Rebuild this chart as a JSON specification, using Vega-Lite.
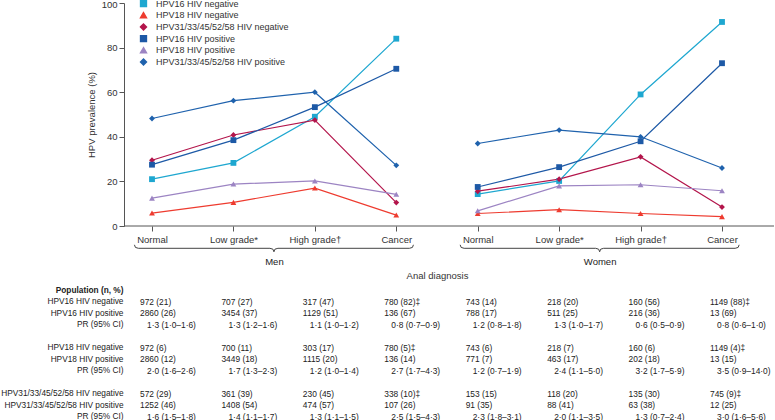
{
  "$schema": "https://vega.github.io/schema/vega-lite/v6.json",
  "width": 650,
  "height": 223,
  "autosize": {"type": "none"},
  "padding": {"left": 124, "top": 3, "right": 1, "bottom": 194},
  "background": "white",
  "datasets": {
    "prev": [
      {"s": "HPV16 HIV negative", "g": "Men", "col": "Men|Normal", "v": 21},
      {"s": "HPV16 HIV negative", "g": "Men", "col": "Men|Low grade*", "v": 28.3},
      {"s": "HPV16 HIV negative", "g": "Men", "col": "Men|High grade†", "v": 49},
      {"s": "HPV16 HIV negative", "g": "Men", "col": "Men|Cancer", "v": 84},
      {"s": "HPV18 HIV negative", "g": "Men", "col": "Men|Normal", "v": 5.8},
      {"s": "HPV18 HIV negative", "g": "Men", "col": "Men|Low grade*", "v": 10.6},
      {"s": "HPV18 HIV negative", "g": "Men", "col": "Men|High grade†", "v": 17},
      {"s": "HPV18 HIV negative", "g": "Men", "col": "Men|Cancer", "v": 4.9},
      {"s": "HPV31/33/45/52/58 HIV negative", "g": "Men", "col": "Men|Normal", "v": 29.5},
      {"s": "HPV31/33/45/52/58 HIV negative", "g": "Men", "col": "Men|Low grade*", "v": 40.8},
      {"s": "HPV31/33/45/52/58 HIV negative", "g": "Men", "col": "Men|High grade†", "v": 47.5},
      {"s": "HPV31/33/45/52/58 HIV negative", "g": "Men", "col": "Men|Cancer", "v": 10.5},
      {"s": "HPV16 HIV positive", "g": "Men", "col": "Men|Normal", "v": 27.5},
      {"s": "HPV16 HIV positive", "g": "Men", "col": "Men|Low grade*", "v": 38.5},
      {"s": "HPV16 HIV positive", "g": "Men", "col": "Men|High grade†", "v": 53.3},
      {"s": "HPV16 HIV positive", "g": "Men", "col": "Men|Cancer", "v": 70.5},
      {"s": "HPV18 HIV positive", "g": "Men", "col": "Men|Normal", "v": 12.5},
      {"s": "HPV18 HIV positive", "g": "Men", "col": "Men|Low grade*", "v": 18.8},
      {"s": "HPV18 HIV positive", "g": "Men", "col": "Men|High grade†", "v": 20.2},
      {"s": "HPV18 HIV positive", "g": "Men", "col": "Men|Cancer", "v": 14.2},
      {"s": "HPV31/33/45/52/58 HIV positive", "g": "Men", "col": "Men|Normal", "v": 48.2},
      {"s": "HPV31/33/45/52/58 HIV positive", "g": "Men", "col": "Men|Low grade*", "v": 56.2},
      {"s": "HPV31/33/45/52/58 HIV positive", "g": "Men", "col": "Men|High grade†", "v": 60},
      {"s": "HPV31/33/45/52/58 HIV positive", "g": "Men", "col": "Men|Cancer", "v": 27.2},
      {"s": "HPV16 HIV negative", "g": "Women", "col": "Women|Normal", "v": 14.3},
      {"s": "HPV16 HIV negative", "g": "Women", "col": "Women|Low grade*", "v": 20.2},
      {"s": "HPV16 HIV negative", "g": "Women", "col": "Women|High grade†", "v": 59},
      {"s": "HPV16 HIV negative", "g": "Women", "col": "Women|Cancer", "v": 91.5},
      {"s": "HPV18 HIV negative", "g": "Women", "col": "Women|Normal", "v": 5.6},
      {"s": "HPV18 HIV negative", "g": "Women", "col": "Women|Low grade*", "v": 7.3},
      {"s": "HPV18 HIV negative", "g": "Women", "col": "Women|High grade†", "v": 5.6},
      {"s": "HPV18 HIV negative", "g": "Women", "col": "Women|Cancer", "v": 4.2},
      {"s": "HPV31/33/45/52/58 HIV negative", "g": "Women", "col": "Women|Normal", "v": 15.6},
      {"s": "HPV31/33/45/52/58 HIV negative", "g": "Women", "col": "Women|Low grade*", "v": 21},
      {"s": "HPV31/33/45/52/58 HIV negative", "g": "Women", "col": "Women|High grade†", "v": 31},
      {"s": "HPV31/33/45/52/58 HIV negative", "g": "Women", "col": "Women|Cancer", "v": 8.5},
      {"s": "HPV16 HIV positive", "g": "Women", "col": "Women|Normal", "v": 17.5},
      {"s": "HPV16 HIV positive", "g": "Women", "col": "Women|Low grade*", "v": 26.4},
      {"s": "HPV16 HIV positive", "g": "Women", "col": "Women|High grade†", "v": 38},
      {"s": "HPV16 HIV positive", "g": "Women", "col": "Women|Cancer", "v": 73},
      {"s": "HPV18 HIV positive", "g": "Women", "col": "Women|Normal", "v": 6.8},
      {"s": "HPV18 HIV positive", "g": "Women", "col": "Women|Low grade*", "v": 18},
      {"s": "HPV18 HIV positive", "g": "Women", "col": "Women|High grade†", "v": 18.5},
      {"s": "HPV18 HIV positive", "g": "Women", "col": "Women|Cancer", "v": 15.8},
      {"s": "HPV31/33/45/52/58 HIV positive", "g": "Women", "col": "Women|Normal", "v": 37},
      {"s": "HPV31/33/45/52/58 HIV positive", "g": "Women", "col": "Women|Low grade*", "v": 43},
      {"s": "HPV31/33/45/52/58 HIV positive", "g": "Women", "col": "Women|High grade†", "v": 40},
      {"s": "HPV31/33/45/52/58 HIV positive", "g": "Women", "col": "Women|Cancer", "v": 26}
    ],
    "table": [
      {"r": "HPV16 HIV negative", "col": "Men|Normal", "t": "972 (21)"},
      {"r": "HPV16 HIV negative", "col": "Men|Low grade*", "t": "707 (27)"},
      {"r": "HPV16 HIV negative", "col": "Men|High grade†", "t": "317 (47)"},
      {"r": "HPV16 HIV negative", "col": "Men|Cancer", "t": "780 (82)‡"},
      {"r": "HPV16 HIV negative", "col": "Women|Normal", "t": "743 (14)"},
      {"r": "HPV16 HIV negative", "col": "Women|Low grade*", "t": "218 (20)"},
      {"r": "HPV16 HIV negative", "col": "Women|High grade†", "t": "160 (56)"},
      {"r": "HPV16 HIV negative", "col": "Women|Cancer", "t": "1149 (88)‡"},
      {"r": "HPV16 HIV positive", "col": "Men|Normal", "t": "2860 (26)"},
      {"r": "HPV16 HIV positive", "col": "Men|Low grade*", "t": "3454 (37)"},
      {"r": "HPV16 HIV positive", "col": "Men|High grade†", "t": "1129 (51)"},
      {"r": "HPV16 HIV positive", "col": "Men|Cancer", "t": "136 (67)"},
      {"r": "HPV16 HIV positive", "col": "Women|Normal", "t": "788 (17)"},
      {"r": "HPV16 HIV positive", "col": "Women|Low grade*", "t": "511 (25)"},
      {"r": "HPV16 HIV positive", "col": "Women|High grade†", "t": "216 (36)"},
      {"r": "HPV16 HIV positive", "col": "Women|Cancer", "t": "13 (69)"},
      {"r": "PR (95% CI)|1", "col": "Men|Normal", "t": "1·3 (1·0–1·6)"},
      {"r": "PR (95% CI)|1", "col": "Men|Low grade*", "t": "1·3 (1·2–1·6)"},
      {"r": "PR (95% CI)|1", "col": "Men|High grade†", "t": "1·1 (1·0–1·2)"},
      {"r": "PR (95% CI)|1", "col": "Men|Cancer", "t": "0·8 (0·7–0·9)"},
      {"r": "PR (95% CI)|1", "col": "Women|Normal", "t": "1·2 (0·8–1·8)"},
      {"r": "PR (95% CI)|1", "col": "Women|Low grade*", "t": "1·3 (1·0–1·7)"},
      {"r": "PR (95% CI)|1", "col": "Women|High grade†", "t": "0·6 (0·5–0·9)"},
      {"r": "PR (95% CI)|1", "col": "Women|Cancer", "t": "0·8 (0·6–1·0)"},
      {"r": "HPV18 HIV negative", "col": "Men|Normal", "t": "972 (6)"},
      {"r": "HPV18 HIV negative", "col": "Men|Low grade*", "t": "700 (11)"},
      {"r": "HPV18 HIV negative", "col": "Men|High grade†", "t": "303 (17)"},
      {"r": "HPV18 HIV negative", "col": "Men|Cancer", "t": "780 (5)‡"},
      {"r": "HPV18 HIV negative", "col": "Women|Normal", "t": "743 (6)"},
      {"r": "HPV18 HIV negative", "col": "Women|Low grade*", "t": "218 (7)"},
      {"r": "HPV18 HIV negative", "col": "Women|High grade†", "t": "160 (6)"},
      {"r": "HPV18 HIV negative", "col": "Women|Cancer", "t": "1149 (4)‡"},
      {"r": "HPV18 HIV positive", "col": "Men|Normal", "t": "2860 (12)"},
      {"r": "HPV18 HIV positive", "col": "Men|Low grade*", "t": "3449 (18)"},
      {"r": "HPV18 HIV positive", "col": "Men|High grade†", "t": "1115 (20)"},
      {"r": "HPV18 HIV positive", "col": "Men|Cancer", "t": "136 (14)"},
      {"r": "HPV18 HIV positive", "col": "Women|Normal", "t": "771 (7)"},
      {"r": "HPV18 HIV positive", "col": "Women|Low grade*", "t": "463 (17)"},
      {"r": "HPV18 HIV positive", "col": "Women|High grade†", "t": "202 (18)"},
      {"r": "HPV18 HIV positive", "col": "Women|Cancer", "t": "13 (15)"},
      {"r": "PR (95% CI)|2", "col": "Men|Normal", "t": "2·0 (1·6–2·6)"},
      {"r": "PR (95% CI)|2", "col": "Men|Low grade*", "t": "1·7 (1·3–2·3)"},
      {"r": "PR (95% CI)|2", "col": "Men|High grade†", "t": "1·2 (1·0–1·4)"},
      {"r": "PR (95% CI)|2", "col": "Men|Cancer", "t": "2·7 (1·7–4·3)"},
      {"r": "PR (95% CI)|2", "col": "Women|Normal", "t": "1·2 (0·7–1·9)"},
      {"r": "PR (95% CI)|2", "col": "Women|Low grade*", "t": "2·4 (1·1–5·0)"},
      {"r": "PR (95% CI)|2", "col": "Women|High grade†", "t": "3·2 (1·7–5·9)"},
      {"r": "PR (95% CI)|2", "col": "Women|Cancer", "t": "3·5 (0·9–14·0)"},
      {"r": "HPV31/33/45/52/58 HIV negative", "col": "Men|Normal", "t": "572 (29)"},
      {"r": "HPV31/33/45/52/58 HIV negative", "col": "Men|Low grade*", "t": "361 (39)"},
      {"r": "HPV31/33/45/52/58 HIV negative", "col": "Men|High grade†", "t": "230 (45)"},
      {"r": "HPV31/33/45/52/58 HIV negative", "col": "Men|Cancer", "t": "338 (10)‡"},
      {"r": "HPV31/33/45/52/58 HIV negative", "col": "Women|Normal", "t": "153 (15)"},
      {"r": "HPV31/33/45/52/58 HIV negative", "col": "Women|Low grade*", "t": "118 (20)"},
      {"r": "HPV31/33/45/52/58 HIV negative", "col": "Women|High grade†", "t": "135 (30)"},
      {"r": "HPV31/33/45/52/58 HIV negative", "col": "Women|Cancer", "t": "745 (9)‡"},
      {"r": "HPV31/33/45/52/58 HIV positive", "col": "Men|Normal", "t": "1252 (46)"},
      {"r": "HPV31/33/45/52/58 HIV positive", "col": "Men|Low grade*", "t": "1408 (54)"},
      {"r": "HPV31/33/45/52/58 HIV positive", "col": "Men|High grade†", "t": "474 (57)"},
      {"r": "HPV31/33/45/52/58 HIV positive", "col": "Men|Cancer", "t": "107 (26)"},
      {"r": "HPV31/33/45/52/58 HIV positive", "col": "Women|Normal", "t": "91 (35)"},
      {"r": "HPV31/33/45/52/58 HIV positive", "col": "Women|Low grade*", "t": "88 (41)"},
      {"r": "HPV31/33/45/52/58 HIV positive", "col": "Women|High grade†", "t": "63 (38)"},
      {"r": "HPV31/33/45/52/58 HIV positive", "col": "Women|Cancer", "t": "12 (25)"},
      {"r": "PR (95% CI)|3", "col": "Men|Normal", "t": "1·6 (1·5–1·8)"},
      {"r": "PR (95% CI)|3", "col": "Men|Low grade*", "t": "1·4 (1·1–1·7)"},
      {"r": "PR (95% CI)|3", "col": "Men|High grade†", "t": "1·3 (1·1–1·5)"},
      {"r": "PR (95% CI)|3", "col": "Men|Cancer", "t": "2·5 (1·5–4·3)"},
      {"r": "PR (95% CI)|3", "col": "Women|Normal", "t": "2·3 (1·8–3·1)"},
      {"r": "PR (95% CI)|3", "col": "Women|Low grade*", "t": "2·0 (1·1–3·5)"},
      {"r": "PR (95% CI)|3", "col": "Women|High grade†", "t": "1·3 (0·7–2·4)"},
      {"r": "PR (95% CI)|3", "col": "Women|Cancer", "t": "3·0 (1·6–5·6)"}
    ]
  },
  "layer": [
    {
      "data": {"name": "prev"},
      "layer": [
        {
          "mark": {"type": "line", "strokeWidth": 1.2},
          "encoding": {
            "x": {
              "field": "col", "type": "ordinal",
              "sort": ["Men|Normal", "Men|Low grade*", "Men|High grade†", "Men|Cancer", "Women|Normal", "Women|Low grade*", "Women|High grade†", "Women|Cancer"],
              "scale": {"type": "point", "domain": ["Men|Normal", "Men|Low grade*", "Men|High grade†", "Men|Cancer", "Women|Normal", "Women|Low grade*", "Women|High grade†", "Women|Cancer"], "range": [28, 598], "padding": 0},
              "axis": {"labelExpr": "split(datum.value, '|')[1]", "labelAngle": 0, "domain": false, "tickSize": 5, "labelPadding": 3, "title": "Anal diagnosis", "titlePadding": 27}
            },
            "y": {
              "field": "v", "type": "quantitative",
              "scale": {"domain": [0, 100], "nice": false, "zero": true},
              "axis": {
                "values": [0, 20, 40, 60, 80, 100], "tickSize": 5, "labelPadding": 2, "title": "HPV prevalence (%)", "titlePadding": 5,
                "labelOffset": {"condition": {"test": "datum.value == 100", "value": 1.5}, "value": 0}
              }
            },
            "color": {
              "field": "s", "type": "nominal", "title": null,
              "scale": {
                "domain": ["HPV16 HIV negative", "HPV18 HIV negative", "HPV31/33/45/52/58 HIV negative", "HPV16 HIV positive", "HPV18 HIV positive", "HPV31/33/45/52/58 HIV positive"],
                "range": ["#1ea7d0", "#ee3b2f", "#b3154b", "#1d59a6", "#9c84c3", "#1f62ad"]
              }
            },
            "detail": {"field": "g"}
          }
        },
        {
          "mark": {"type": "point", "filled": true, "opacity": 1, "size": 34},
          "encoding": {
            "x": {
              "field": "col", "type": "ordinal",
              "sort": ["Men|Normal", "Men|Low grade*", "Men|High grade†", "Men|Cancer", "Women|Normal", "Women|Low grade*", "Women|High grade†", "Women|Cancer"]
            },
            "y": {"field": "v", "type": "quantitative"},
            "color": {"field": "s", "type": "nominal", "title": null},
            "shape": {
              "field": "s", "type": "nominal", "title": null,
              "scale": {
                "domain": ["HPV16 HIV negative", "HPV18 HIV negative", "HPV31/33/45/52/58 HIV negative", "HPV16 HIV positive", "HPV18 HIV positive", "HPV31/33/45/52/58 HIV positive"],
                "range": ["square", "triangle-up", "diamond", "square", "triangle-up", "diamond"]
              }
            }
          }
        },
        {
          "data": {"values": [{}]},
          "mark": {"type": "rule", "color": "#555", "strokeWidth": 1},
          "encoding": {"y": {"datum": 0, "type": "quantitative"}}
        },
        {
          "data": {"values": [{"col": "Men|Low grade*"}, {"col": "Women|Low grade*"}]},
          "mark": {
            "type": "point", "filled": false, "opacity": 1, "size": 4, "strokeWidth": 1, "color": "#444",
            "shape": "M -99 -3.5 Q -99 0 -95 0 L 36.5 0 Q 40.5 0 40.5 3.5 Q 40.5 0 44.5 0 L 176 0 Q 180 0 180 -3.5"
          },
          "encoding": {
            "x": {"field": "col", "type": "ordinal"},
            "y": {"datum": -10, "type": "quantitative"}
          }
        }
      ]
    },
    {
      "layer": [
        {
          "data": {"name": "table"},
          "transform": [{"filter": "indexof(datum.r, 'PR') != 0"}],
          "mark": {"type": "text", "align": "left", "baseline": "middle", "dx": -12, "fontSize": 8.4, "color": "#222"},
          "encoding": {
            "x": {"field": "col", "type": "ordinal"},
            "y": {
              "field": "r", "type": "ordinal",
              "scale": {
                "type": "point", "padding": 0, "range": [264, 413.5],
                "domain": ["|a", "|b", "Population (n, %)", "HPV16 HIV negative", "HPV16 HIV positive", "PR (95% CI)|1", "|g1", "HPV18 HIV negative", "HPV18 HIV positive", "PR (95% CI)|2", "|g2", "HPV31/33/45/52/58 HIV negative", "HPV31/33/45/52/58 HIV positive", "PR (95% CI)|3"]
              },
              "axis": {
                "orient": "left", "domain": false, "ticks": false, "title": null, "labelPadding": 1,
                "labelColor": "#222", "labelFontSize": 8.3,
                "labelExpr": "split(datum.value, '|')[0]",
                "labelFontWeight": {"condition": {"test": "datum.value == 'Population (n, %)'", "value": "bold"}, "value": "normal"}
              }
            },
            "text": {"field": "t"}
          }
        },
        {
          "data": {"name": "table"},
          "transform": [{"filter": "indexof(datum.r, 'PR') == 0"}],
          "mark": {"type": "text", "align": "left", "baseline": "middle", "dx": -5, "fontSize": 8.4, "color": "#222"},
          "encoding": {
            "x": {"field": "col", "type": "ordinal"},
            "y": {"field": "r", "type": "ordinal"},
            "text": {"field": "t"}
          }
        },
        {
          "data": {"values": [{"r": "|a", "col": "Men|Low grade*", "t": "Men"}, {"r": "|a", "col": "Women|Low grade*", "t": "Women"}]},
          "mark": {"type": "text", "align": "center", "baseline": "middle", "dx": 41, "dy": -5, "fontSize": 9.5, "color": "#222"},
          "encoding": {
            "x": {"field": "col", "type": "ordinal"},
            "y": {"field": "r", "type": "ordinal"},
            "text": {"field": "t"}
          }
        }
      ]
    }
  ],
  "resolve": {"scale": {"y": "independent"}, "axis": {"y": "independent"}},
  "config": {
    "font": "Liberation Sans",
    "view": {"stroke": null},
    "axis": {
      "labelFont": "Liberation Sans", "labelFontSize": 9.5, "labelColor": "#333",
      "titleFont": "Liberation Sans", "titleFontSize": 9.5, "titleFontWeight": "normal", "titleColor": "#333",
      "domainColor": "#555", "tickColor": "#555", "grid": false
    },
    "legend": {
      "orient": "none", "legendX": 15, "legendY": -4, "padding": 0,
      "labelFont": "Liberation Sans", "labelFontSize": 9, "labelColor": "#333",
      "symbolSize": 34, "rowPadding": -1.3, "labelOffset": 8
    },
    "text": {"font": "Liberation Sans"}
  }
}
